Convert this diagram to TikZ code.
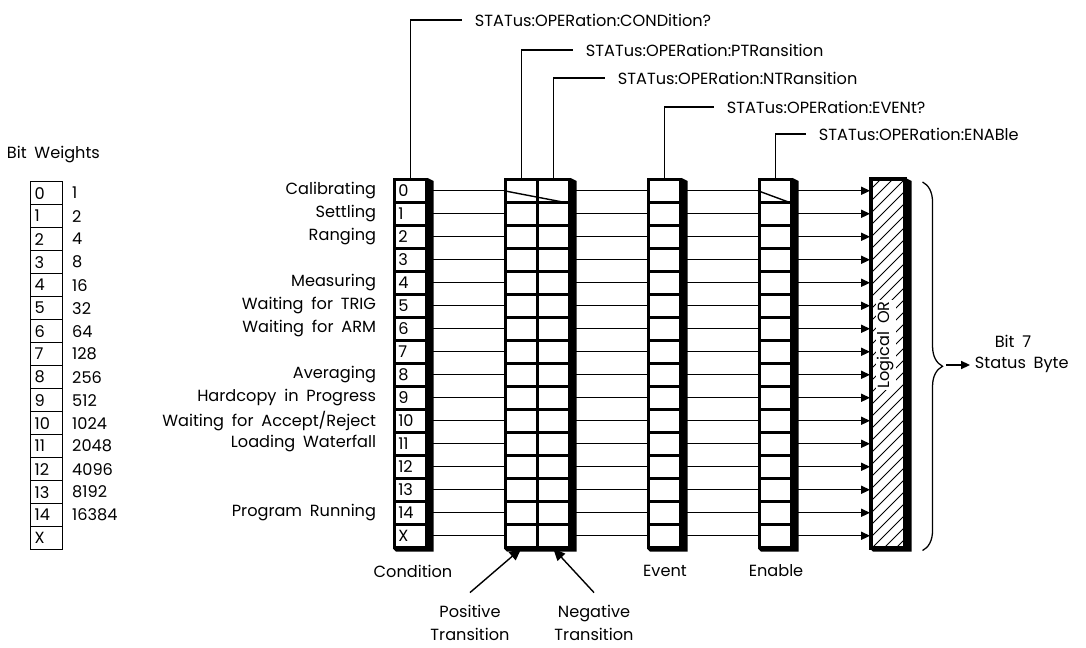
\documentclass[tikz,border=0pt]{standalone}
\usepackage{fontspec}
\setmainfont{Poppins}[WordSpace=1.8]
\usetikzlibrary{positioning,arrows.meta,backgrounds,decorations.pathreplacing}

\tikzset{
	regcell/.style={draw,line width=1.8pt,fill=white,anchor=north west,minimum width=8mm,minimum height=5.75mm,inner xsep=1mm,inner ysep=0pt,text width=6mm,align=left},
	bitcell/.style={regcell,line width=0.9pt},
	wire/.style={line width=1pt},
	arr/.style={wire,-{Triangle[length=2.2mm,width=2mm]}},
	parr/.style={wire,-{Triangle[length=3mm,width=2.6mm]}},
	brc/.style={decorate,decoration={brace,amplitude=5mm},line width=0.9pt},
	hatch/.style={line width=0.6pt},
}
\newcommand{\regshadow}[2]{\fill (#1.north east) -- ++(1.5mm,-0.75mm) |- ([shift={(0.75mm,-0.75mm)}]#2.south west) -- (#2.south west) -- cycle;}

\begin{document}
\begin{tikzpicture}[x=0.25mm,y=-0.25mm,font=\fontsize{11.5}{16}\selectfont]
	\useasboundingbox (0,0) rectangle (1086,648);
	
	% registers
	\foreach \i/\t in {0/0,1/1,2/2,3/3,4/4,5/5,6/6,7/7,8/8,9/9,10/10,11/11,12/12,13/13,14/14,15/X}{
		\node[regcell] (cond\i) at (393,{178+23*\i}) {\t};
		\node[regcell] (ptr\i) at (504,{178+23*\i}) {};
		\node[regcell] (ntr\i) at (536,{178+23*\i}) {};
		\node[regcell] (ev\i) at (647,{178+23*\i}) {};
		\node[regcell] (en\i) at (758,{178+23*\i}) {};
		\node[bitcell] (bw\i) at (30,{181+23*\i}) {\t};
	}
	\node[draw,line width=1.8pt,fill=white,anchor=north west,minimum width=8.25mm,minimum height=92mm] (lor) at (870,178) {};
	
	\begin{scope}[on background layer]
		\foreach \i in {0,...,15}{
			\draw[wire] (cond\i) -- (ptr\i);
			\draw[wire] (ntr\i) -- (ev\i);
			\draw[wire] (ev\i) -- (en\i);
		}
		\regshadow{cond0}{cond15}
		\regshadow{ntr0}{ptr15}
		\regshadow{ev0}{ev15}
		\regshadow{en0}{en15}
		\regshadow{lor}{lor}
	\end{scope}
	
	% logical OR
	\begin{scope}
		\clip (lor.north west) rectangle (lor.south east);
		\foreach \k in {0,12,...,410}
			\draw[hatch] (870,{178+\k}) -- ++(40,-40);
	\end{scope}
	\draw[line width=1.8pt] (lor.north west) rectangle (lor.south east);
	\node[rotate=90,fill=white,inner sep=1pt] (lorl) at (886,345) {Logical OR};
	
	\foreach \i in {0,...,15}
		\draw[arr] (en\i) -- (en\i -| lor.west);
	\draw[wire] (ptr0.west) -- (ntr0.south east);
	\draw[wire] (en0.west) -- (en0.south east);
	
	% bit weights
	\node[anchor=west] (bwt) at (2,155) {Bit Weights};
	\foreach \i/\w in {0/1,1/2,2/4,3/8,4/16,5/32,6/64,7/128,8/256,9/512,10/1024,11/2048,12/4096,13/8192,14/16384}
		\node[right=1mm of bw\i] (wt\i) {\w};
	
	% bit names
	\foreach \i/\l in {0/Calibrating,1/Settling,2/Ranging,4/Measuring,5/Waiting for TRIG,6/Waiting for ARM,8/Averaging,9/Hardcopy in Progress,10/{Waiting for Accept/Reject},11/Loading Waterfall,14/Program Running}
		\node[left=3mm of cond\i] (lab\i) {\l};
	
	% commands
	\node[anchor=west] (qcond) at (470,20) {STATus:OPERation:CONDition?};
	\node[anchor=west] (qptr) at (581,50) {STATus:OPERation:PTRansition};
	\node[anchor=west] (qntr) at (613,78) {STATus:OPERation:NTRansition};
	\node[anchor=west] (qev) at (722,107) {STATus:OPERation:EVENt?};
	\node[anchor=west] (qen) at (814,134) {STATus:OPERation:ENABle};
	\draw[wire] (cond0.north) |- ([xshift=-2mm]qcond.west);
	\draw[wire] (ptr0.north) |- ([xshift=-2mm]qptr.west);
	\draw[wire] (ntr0.north) |- ([xshift=-2mm]qntr.west);
	\draw[wire] (ev0.north) |- ([xshift=-2mm]qev.west);
	\draw[wire] (en0.north) |- ([xshift=-2mm]qen.west);
	
	% bottom
	\node (lcond) at (413,571) {Condition};
	\node (lev) at (665,571) {Event};
	\node (len) at (776,571) {Enable};
	\node[align=center] (lpos) at (470,623) {Positive\\Transition};
	\node[align=center] (lneg) at (594,623) {Negative\\Transition};
	\draw[parr] ([yshift=2mm]lpos.north) -- (ptr15.south);
	\draw[parr] ([yshift=2mm]lneg.north) -- (ntr15.south);
	
	% status byte
	\draw[brc] ([shift={(4.25mm,-1mm)}]lor.north east) -- ([shift={(4.25mm,-0.5mm)}]lor.south east);
	\node[anchor=west] (sbyte) at (970,365) {Status Byte};
	\node (bit7) at (1013,341) {Bit 7};
	\coordinate (btip) at (946,365);
	\draw[arr] (btip) -- (sbyte.west);
\end{tikzpicture}
\end{document}
